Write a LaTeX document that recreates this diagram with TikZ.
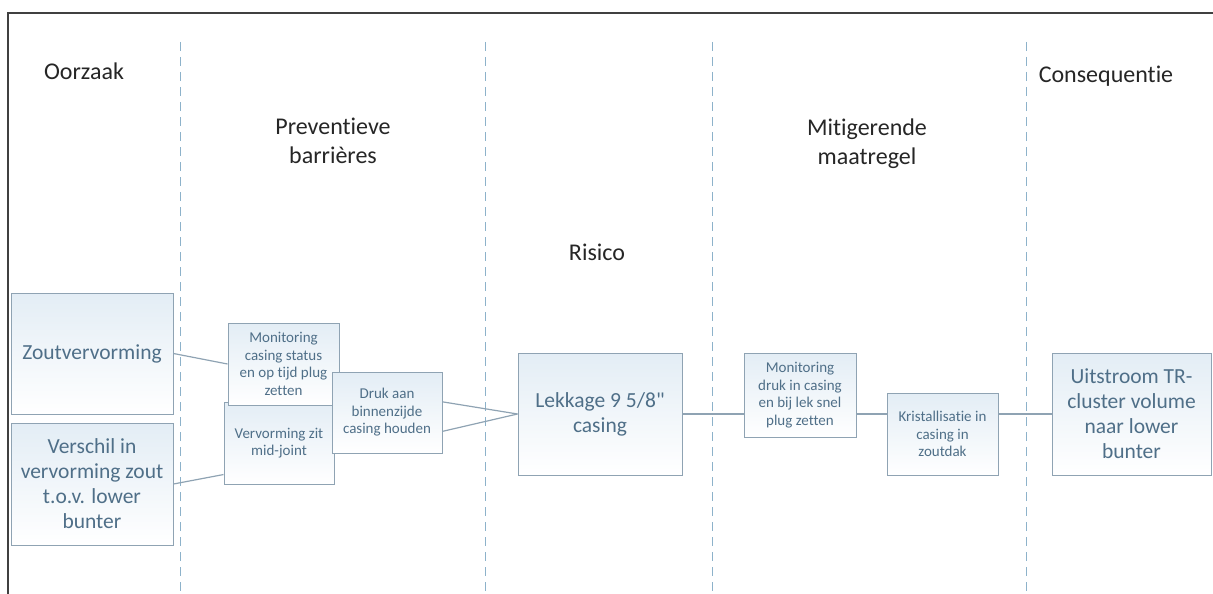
\documentclass[tikz,border=0pt]{standalone}
\usepackage{fontspec}
\setmainfont{Carlito}[Ligatures={TeXOff,NoCommon}]
\usetikzlibrary{positioning,calc}
\definecolor{boxline}{HTML}{8FA3B3}
\definecolor{boxtext}{HTML}{4F6F88}
\definecolor{boxtop}{HTML}{E3EDF5}
\definecolor{divline}{HTML}{8DB2CA}
\definecolor{frameline}{HTML}{404040}

\begin{document}
\begin{tikzpicture}[x=1pt, y=-1pt,
  hdr/.style={align=center, text=black!85, font=\fontsize{24}{29}\selectfont, inner sep=0pt},
  box/.style={draw=boxline, line width=1pt, top color=boxtop, bottom color=white, align=center, text=boxtext, inner sep=2pt},
  big/.style={box, font=\fontsize{21.5}{25}\selectfont},
  small/.style={box, font=\fontsize{15}{17.5}\selectfont},
  link/.style={draw=boxline, line width=1.2pt},
  divider/.style={divline, line width=1pt, dash pattern=on 9pt off 6pt}
]
\useasboundingbox (0,0) rectangle (1213,594);
\draw[frameline, line width=1.8pt] (8,594) -- (8,13) -- (1213,13);
\foreach \x in {180,485,712,1026}
  \draw[divider] (\x,42) -- (\x,594);

\node[hdr, anchor=base] (oorz) at (84,80) {Oorzaak};
\node[hdr] (prev) at (333,141) {Preventieve\\barrières};
\node[hdr, anchor=base] (ris) at (597,260) {Risico};
\node[hdr] (mitig) at (867,144) {Mitigerende\\maatregel};
\node[hdr, anchor=base] (cons) at (1106,82) {Consequentie};

\node[big, minimum width=162pt, minimum height=121pt] (zout) at (92,353.5) {Zoutvervorming};
\node[big, minimum width=162pt, minimum height=122pt] (versch) at (92,484)
  {Verschil in\\vervorming zout\\t.o.v. lower\\bunter};
\node[small, minimum width=110pt, minimum height=82pt] (midj) at (279,443) {Vervorming zit\\mid-joint};
\node[small, minimum width=111pt, minimum height=82pt] (moncas) at (283.5,364)
  {Monitoring\\casing status\\en op tijd plug\\zetten};
\node[small, minimum width=110pt, minimum height=81pt] (druk) at (387,412.5)
  {Druk aan\\binnenzijde\\casing houden};
\node[big, minimum width=164pt, minimum height=122pt] (lek) at (600,414) {Lekkage 9 5/8"\\casing};
\node[small, minimum width=112pt, minimum height=84pt] (mondr) at (800,395)
  {Monitoring\\druk in casing\\en bij lek snel\\plug zetten};
\node[small, minimum width=111pt, minimum height=82pt] (krist) at (942.5,434)
  {Kristallisatie in\\casing in\\zoutdak};
\node[big, minimum width=159pt, minimum height=122pt] (uit) at (1131.5,414)
  {Uitstroom TR-\\cluster volume\\naar lower\\bunter};

\draw[link] (zout.east) -- (moncas.west);
\draw[link] (versch.east) -- ($(midj.south west)!0.12!(midj.north west)$);
\draw[link] ($(druk.north east)!0.37!(druk.south east)$) -- (lek.west);
\draw[link] ($(druk.north east)!0.73!(druk.south east)$) -- (lek.west);
\draw[link] (lek.east) -- (lek.east -| mondr.west);
\draw[link] (lek.east -| mondr.east) -- (lek.east -| krist.west);
\draw[link] (lek.east -| krist.east) -- (uit.west);
\end{tikzpicture}
\end{document}
